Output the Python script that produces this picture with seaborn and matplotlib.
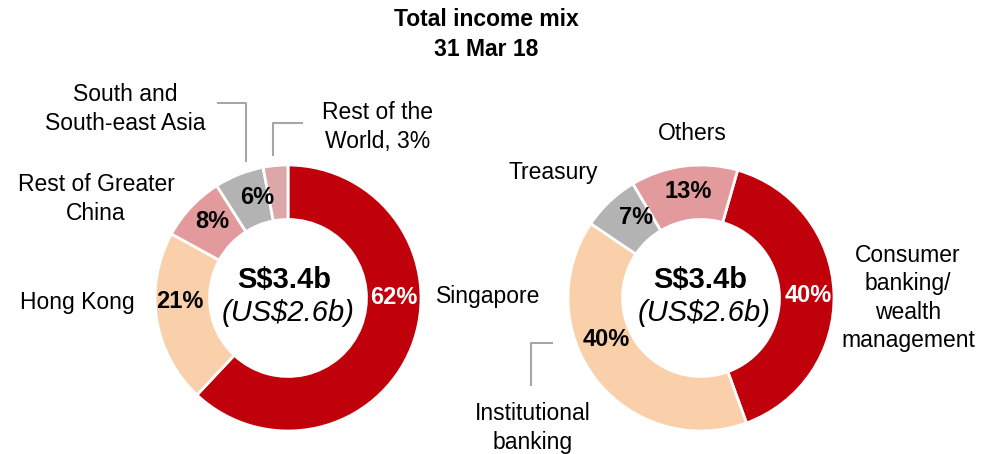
import matplotlib
matplotlib.use("Agg")
import matplotlib.pyplot as plt
import seaborn as sns

# ---------------- data ----------------
title_lines = ["Total income mix", "31 Mar 18"]
center_main = "S$3.4b"
center_sub = "(US$2.6b)"

regions = ["Singapore", "Hong Kong", "Rest of Greater\nChina",
           "South and\nSouth-east Asia", "Rest of the\nWorld, 3%"]
region_pct = [62, 21, 8, 6, 3]

segments = ["Consumer\nbanking/\nwealth\nmanagement", "Institutional\nbanking",
            "Treasury", "Others"]
segment_pct = [40, 40, 7, 13]

# ---------------- style ----------------
sns.set_theme(style="white")
plt.rcParams["font.family"] = ["Liberation Sans", "DejaVu Sans"]
plt.rcParams["text.color"] = "black"

RED = "#C0000B"
PEACH = "#F9D0A9"
PINK = "#E39A9C"
GRAY = "#B3B3B3"
LPINK = "#DCA7A9"
region_colors = [RED, PEACH, PINK, GRAY, LPINK]
segment_colors = [RED, PEACH, GRAY, PINK]

W, H = 992, 454
fig = plt.figure(figsize=(W / 100, H / 100), dpi=100)
ax = fig.add_axes([0, 0, 1, 1])

def Y(py):
    return H - py

LABEL_FS = 16.5
PCT_FS = 17
CENTER_FS = 21
LS = 1.3

# ---------------- left donut ----------------
lc = (288, Y(298))
R = 133
ax.pie(region_pct, colors=region_colors, startangle=90, counterclock=False,
       center=lc, radius=R, frame=True,
       wedgeprops=dict(width=R * 0.41, edgecolor="white", linewidth=2))

# ---------------- right donut ----------------
rc = (701, Y(298))
ax.pie(segment_pct, colors=segment_colors, startangle=74, counterclock=False,
       center=rc, radius=R, frame=True,
       wedgeprops=dict(width=R * 0.41, edgecolor="white", linewidth=2))

ax.set_xlim(0, W)
ax.set_ylim(0, H)
ax.set_aspect("equal")
ax.axis("off")

# percentage labels
left_pct_pos = [(394, 297), (180, 302), (212, 221), (257, 198), None]
for v, pos in zip(region_pct, left_pct_pos):
    if pos is None:
        continue
    col = "white" if v == region_pct[0] else "black"
    ax.text(pos[0], Y(pos[1]), f"{v}%", ha="center", va="center",
            fontsize=PCT_FS, fontweight="bold", color=col)

right_pct_pos = [(808, 296), (606, 340), (636, 218), (688, 192)]
for i, (v, pos) in enumerate(zip(segment_pct, right_pct_pos)):
    col = "white" if i == 0 else "black"
    ax.text(pos[0], Y(pos[1]), f"{v}%", ha="center", va="center",
            fontsize=PCT_FS, fontweight="bold", color=col)

# centre texts
for cx in (286, 702):
    ax.text(cx - 2, Y(280), center_main, ha="center", va="center",
            fontsize=CENTER_FS, fontweight="bold", color="black")
    ax.text(cx + 2, Y(313), center_sub, ha="center", va="center",
            fontsize=CENTER_FS, fontstyle="italic", color="black")

# category labels
left_label_pos = [(488, 297), (77, 303), (96, 199), (125, 109), (378, 127)]
for lab, pos in zip(regions, left_label_pos):
    ax.text(pos[0], Y(pos[1]), lab, ha="center", va="center",
            fontsize=LABEL_FS, linespacing=LS, color="black")

right_label_pos = [(908, 298), (533, 428), (553, 172), (692, 133)]
for lab, pos in zip(segments, right_label_pos):
    ax.text(pos[0], Y(pos[1]), lab, ha="center", va="center",
            fontsize=LABEL_FS, linespacing=LS, color="black")

# leader lines
LC = "#A6A6A6"
leaders = [
    ([217, 246, 246], [103, 103, 162]),
    ([303, 273, 273], [123, 123, 156]),
    ([553, 531, 531], [343, 343, 386]),
]
for xs, ys in leaders:
    ax.plot(xs, [Y(v) for v in ys], color=LC, lw=1.5, solid_capstyle="butt")

# title
ax.text(486, Y(20), title_lines[0], ha="center", va="center",
        fontsize=16.5, fontweight="bold", color="black")
ax.text(486, Y(50), title_lines[1], ha="center", va="center",
        fontsize=16.5, fontweight="bold", color="black")

fig.savefig("out.png", dpi=100)
